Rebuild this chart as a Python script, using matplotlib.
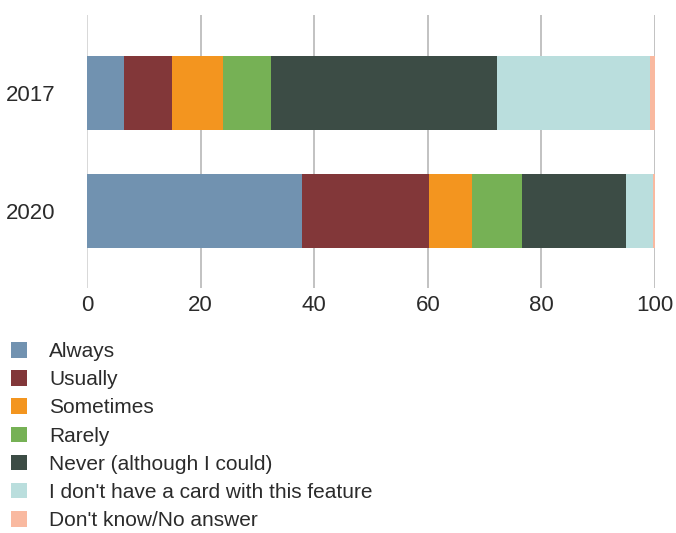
import matplotlib
matplotlib.use("Agg")
import matplotlib.pyplot as plt
import numpy as np

plt.rcParams["font.family"] = ["Liberation Sans", "DejaVu Sans"]

years = ["2017", "2020"]
answers = [
    "Always",
    "Usually",
    "Sometimes",
    "Rarely",
    "Never (although I could)",
    "I don't have a card with this feature",
    "Don't know/No answer",
]
# share of respondents per answer, one value per year
always = [6.6, 37.9]
usually = [8.4, 22.3]
sometimes = [9.0, 7.6]
rarely = [8.4, 8.8]
never = [39.7, 18.3]
no_card = [27.1, 4.7]
dont_know = [0.8, 0.4]

colors = ["#7192b0", "#823739", "#f3951f", "#76b155",
          "#3c4c45", "#badedd", "#f9b9a0"]
text_color = "#2b2b2b"

series = [always, usually, sometimes, rarely, never, no_card, dont_know]

fig = plt.figure(figsize=(6.76, 5.33), dpi=100)
ax = fig.add_axes([87 / 676, 1 - 288 / 533, 568 / 676, 273 / 533])

ypos = np.arange(len(years))
left = np.zeros(len(years))
handles = []
for vals, col, lab in zip(series, colors, answers):
    h = ax.barh(ypos, vals, left=left, height=0.627, color=col,
                label=lab, zorder=3, linewidth=0)
    handles.append(h)
    left += np.array(vals)

ax.set_xlim(0, 100)
ax.set_ylim(1.655, -0.661)
ax.set_xticks(range(0, 101, 20))
ax.set_yticks(ypos)
ax.set_yticklabels(years)

for x in range(0, 101, 20):
    ax.axvline(x, color="#d6d6d6" if x == 0 else "#bdbdbd",
               linewidth=1.3, zorder=1)

for s in ax.spines.values():
    s.set_visible(False)
ax.tick_params(axis="x", length=0, pad=5, labelsize=16, colors=text_color)
ax.tick_params(axis="y", length=0, pad=23, labelsize=16, colors=text_color)

fig.legend(handles=handles, loc="upper left",
           bbox_to_anchor=(11 / 676, 1 - 342 / 533),
           frameon=False, fontsize=15, labelcolor=text_color,
           handlelength=0.77, handleheight=0.77, handletextpad=1.06,
           labelspacing=0.44, borderaxespad=0, borderpad=0)

fig.savefig("out.png", dpi=100)
